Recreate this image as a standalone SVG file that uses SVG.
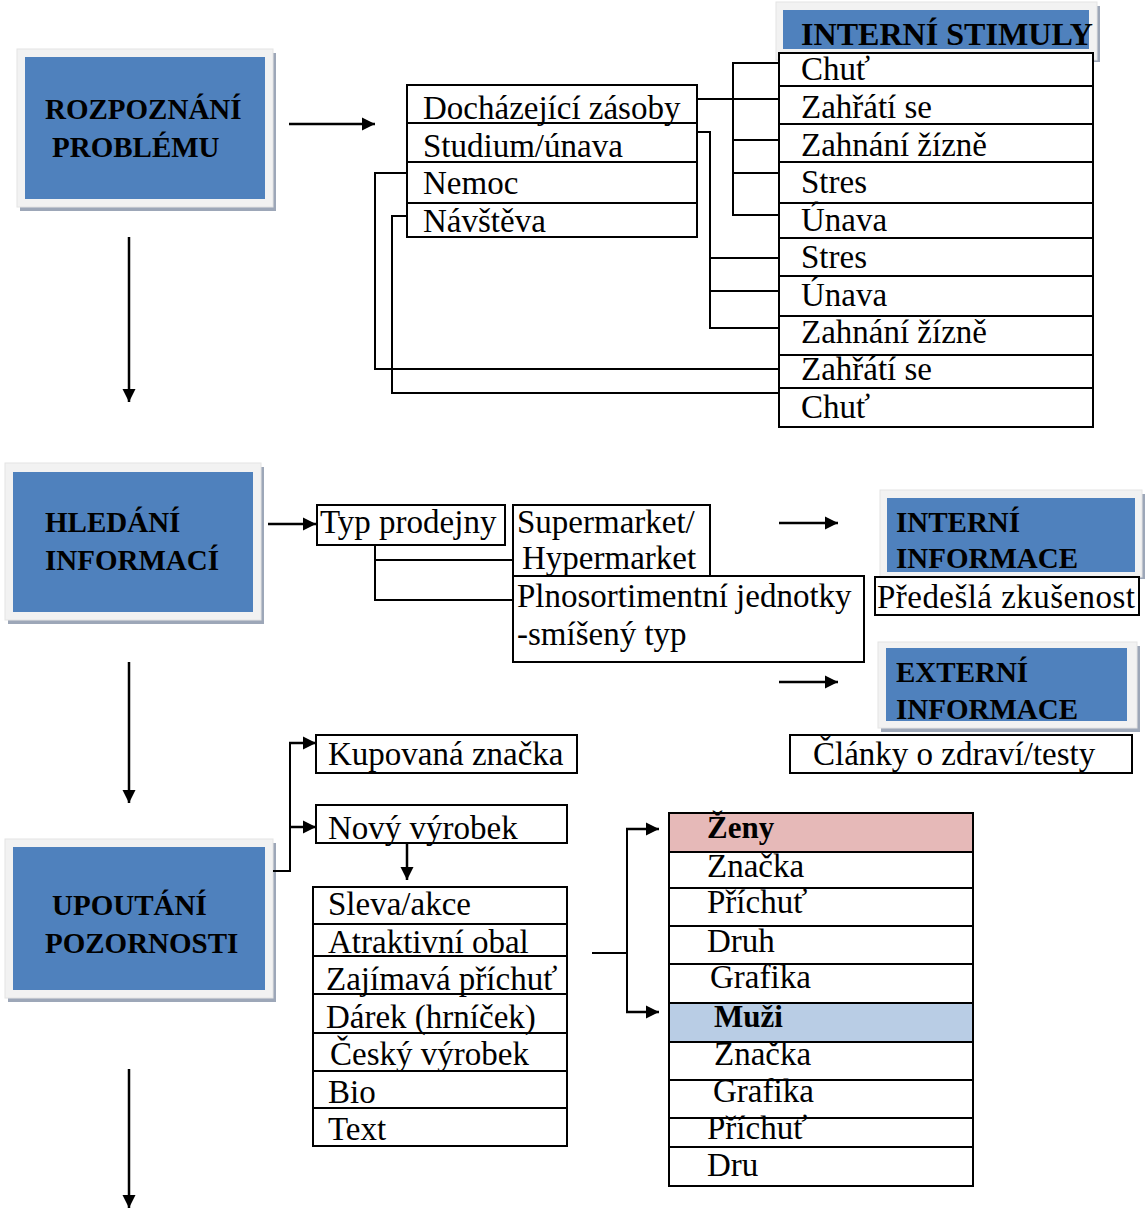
<svg xmlns="http://www.w3.org/2000/svg" width="1145" height="1209" viewBox="0 0 1145 1209">
  <defs>
    <marker id="arrow" markerUnits="userSpaceOnUse" markerWidth="14" markerHeight="14" refX="13" refY="7" orient="auto">
      <path d="M0,0.5 L13,7 L0,13.5 z" fill="#000"/>
    </marker>
  </defs>
  <style>
    .t { font-family: "Liberation Serif", "Times New Roman", serif; font-size: 33px; fill: #000; }
    .h { font-family: "Liberation Serif", "Times New Roman", serif; font-size: 29px; font-weight: bold; fill: #000; }
    .hb { font-family: "Liberation Serif", "Times New Roman", serif; font-size: 31px; font-weight: bold; fill: #000; }
    .box { fill: #fff; stroke: #000; stroke-width: 2; }
    .outline { fill: none; stroke: #000; stroke-width: 2; }
    .ln { fill: none; stroke: #000; stroke-width: 2; }
    .arr { fill: none; stroke: #000; stroke-width: 2.5; marker-end: url(#arrow); }
    .frame { fill: #F2F2F2; stroke: #E4E4E4; stroke-width: 1; }
    .shadow { fill: #9DA7B8; }
    .blue { fill: #4F81BD; }
  </style>

  <rect width="1145" height="1209" fill="#fff"/>

  <!-- stage 1 -->
  <g id="rozpoznani">
    <rect class="shadow" x="20" y="53" width="256" height="158"/>
    <rect class="frame" x="17" y="49" width="256" height="158"/>
    <rect class="blue" x="25" y="57" width="240" height="142"/>
    <text class="h" x="45" y="119">ROZPOZNÁNÍ</text>
    <text class="h" x="52" y="157">PROBLÉMU</text>
  </g>

  <!-- stage 2 -->
  <g id="hledani">
    <rect class="shadow" x="8" y="467" width="256" height="157"/>
    <rect class="frame" x="5" y="463" width="256" height="157"/>
    <rect class="blue" x="13" y="472" width="240" height="140"/>
    <text class="h" x="45" y="532">HLEDÁNÍ</text>
    <text class="h" x="45" y="570">INFORMACÍ</text>
  </g>

  <!-- stage 3 -->
  <g id="upoutani">
    <rect class="shadow" x="8" y="843" width="268" height="159"/>
    <rect class="frame" x="5" y="839" width="268" height="159"/>
    <rect class="blue" x="13" y="847" width="252" height="143"/>
    <text class="h" x="52" y="915">UPOUTÁNÍ</text>
    <text class="h" x="45" y="953">POZORNOSTI</text>
  </g>

  <!-- internal stimuli header -->
  <g id="interni-stimuly">
    <rect class="shadow" x="779" y="6" width="321" height="56"/>
    <rect class="frame" x="776" y="2" width="321" height="58"/>
    <rect class="blue" x="783" y="10" width="306" height="39"/>
    <text class="hb" x="801" y="45" textLength="292" lengthAdjust="spacingAndGlyphs">INTERNÍ STIMULY</text>
  </g>

  <!-- causes -->
  <g id="priciny">
    <rect class="box" x="407" y="85" width="290" height="152"/>
    <path class="ln" d="M407,123 H697 M407,162 H697 M407,203 H697"/>
    <text class="t" x="423" y="119">Docházející zásoby</text>
    <text class="t" x="423" y="157">Studium/únava</text>
    <text class="t" x="423" y="194">Nemoc</text>
    <text class="t" x="423" y="232">Návštěva</text>
  </g>

  <!-- stimuli list -->
  <g id="stimuly">
    <rect class="box" x="779" y="53" width="314" height="374"/>
    <path class="ln" d="M779,86 H1093 M779,124 H1093 M779,162 H1093 M779,203 H1093 M779,238 H1093 M779,276 H1093 M779,316 H1093 M779,355 H1093 M779,388 H1093"/>
    <text class="t" x="801" y="80">Chuť</text>
    <text class="t" x="801" y="118">Zahřátí se</text>
    <text class="t" x="801" y="156">Zahnání žízně</text>
    <text class="t" x="801" y="193">Stres</text>
    <text class="t" x="801" y="231">Únava</text>
    <text class="t" x="801" y="268">Stres</text>
    <text class="t" x="801" y="306">Únava</text>
    <text class="t" x="801" y="343">Zahnání žízně</text>
    <text class="t" x="801" y="380">Zahřátí se</text>
    <text class="t" x="801" y="418">Chuť</text>
  </g>

  <!-- store type -->
  <g id="typ-prodejny">
    <rect class="box" x="317" y="505" width="188" height="40"/>
    <text class="t" x="320" y="533">Typ prodejny</text>
  </g>
  <g id="supermarket">
    <rect class="box" x="513" y="505" width="197" height="71"/>
    <text class="t" x="517" y="533">Supermarket/</text>
    <text class="t" x="522" y="569">Hypermarket</text>
  </g>
  <g id="plnosortimentni">
    <rect class="box" x="513" y="576" width="351" height="86"/>
    <text class="t" x="517" y="607">Plnosortimentní jednotky</text>
    <text class="t" x="517" y="645">-smíšený typ</text>
  </g>

  <!-- information sources -->
  <g id="interni-informace">
    <rect class="shadow" x="883" y="494" width="262" height="85"/>
    <rect class="frame" x="880" y="490" width="262" height="87"/>
    <rect class="blue" x="887" y="498" width="248" height="74"/>
    <text class="h" x="896" y="532">INTERNÍ</text>
    <text class="h" x="896" y="568">INFORMACE</text>
  </g>
  <g id="predesla-zkusenost">
    <rect class="box" x="875" y="577" width="264" height="38"/>
    <text class="t" x="877" y="608" textLength="258">Předešlá zkušenost</text>
  </g>
  <g id="externi-informace">
    <rect class="shadow" x="881" y="646" width="259" height="86"/>
    <rect class="frame" x="878" y="642" width="259" height="86"/>
    <rect class="blue" x="886" y="648" width="241" height="73"/>
    <text class="h" x="896" y="682">EXTERNÍ</text>
    <text class="h" x="896" y="719">INFORMACE</text>
  </g>
  <g id="clanky">
    <rect class="box" x="790" y="735" width="342" height="38"/>
    <text class="t" x="813" y="765">Články o zdraví/testy</text>
  </g>

  <!-- attention -->
  <g id="kupovana-znacka">
    <rect class="box" x="316" y="735" width="261" height="38"/>
    <text class="t" x="328" y="765">Kupovaná značka</text>
  </g>
  <g id="novy-vyrobek">
    <rect class="box" x="316" y="805" width="251" height="38"/>
    <text class="t" x="328" y="839">Nový výrobek</text>
  </g>
  <g id="faktory">
    <rect class="box" x="313" y="887" width="254" height="259"/>
    <path class="ln" d="M313,924 H567 M313,956 H567 M313,994 H567 M313,1033 H567 M313,1071 H567 M313,1108 H567"/>
    <text class="t" x="328" y="915">Sleva/akce</text>
    <text class="t" x="328" y="953">Atraktivní obal</text>
    <text class="t" x="326" y="990">Zajímavá příchuť</text>
    <text class="t" x="326" y="1028">Dárek (hrníček)</text>
    <text class="t" x="330" y="1065">Český výrobek</text>
    <text class="t" x="328" y="1103">Bio</text>
    <text class="t" x="328" y="1140">Text</text>
  </g>
  <g id="pohlavi">
    <rect x="669" y="813" width="304" height="373" fill="#fff"/>
    <rect x="669" y="813" width="304" height="39" fill="#E6B9B8"/>
    <rect x="669" y="1003" width="304" height="39" fill="#B9CDE5"/>
    <rect class="outline" x="669" y="813" width="304" height="373"/>
    <path class="ln" d="M669,852 H973 M669,888 H973 M669,926 H973 M669,964 H973 M669,1003 H973 M669,1042 H973 M669,1080 H973 M669,1118 H973 M669,1147 H973"/>
    <text class="hb" x="707" y="838">Ženy</text>
    <text class="t" x="707" y="877">Značka</text>
    <text class="t" x="707" y="913">Příchuť</text>
    <text class="t" x="707" y="952">Druh</text>
    <text class="t" x="710" y="988">Grafika</text>
    <text class="hb" x="714" y="1027">Muži</text>
    <text class="t" x="714" y="1065">Značka</text>
    <text class="t" x="713" y="1102">Grafika</text>
    <text class="t" x="707" y="1139">Příchuť</text>
    <text class="t" x="707" y="1176">Dru</text>
  </g>

  <!-- connectors -->
  <g id="connectors">
    <!-- stage flow -->
    <line class="arr" x1="129" y1="237" x2="129" y2="402"/>
    <line class="arr" x1="129" y1="662" x2="129" y2="803"/>
    <line class="arr" x1="129" y1="1069" x2="129" y2="1208"/>
    <line class="arr" x1="289" y1="124" x2="375" y2="124"/>
    <line class="arr" x1="268" y1="524" x2="316" y2="524"/>

    <!-- causes to stimuli -->
    <path class="ln" d="M697,99 H779 M779,63 H733 V215 H779 M733,140 H779 M733,173 H779"/>
    <path class="ln" d="M697,132 H710 V328 H779 M710,258 H779 M710,291 H779"/>
    <path class="ln" d="M407,173 H375 V369 H779"/>
    <path class="ln" d="M407,216 H392 V393 H779"/>

    <!-- store type split -->
    <path class="ln" d="M375,545 V600 H513 M375,560 H513"/>

    <!-- information arrows -->
    <line class="arr" x1="779" y1="523" x2="838" y2="523"/>
    <line class="arr" x1="779" y1="682" x2="838" y2="682"/>

    <!-- attention branches -->
    <path class="ln" d="M273,871 H290 V743"/>
    <line class="arr" x1="289" y1="743" x2="316" y2="743"/>
    <line class="arr" x1="290" y1="827" x2="316" y2="827"/>
    <line class="arr" x1="407" y1="843" x2="407" y2="880"/>

    <!-- gender split -->
    <path class="ln" d="M592,953 H627 M627,829 V1012"/>
    <line class="arr" x1="626" y1="829" x2="659" y2="829"/>
    <line class="arr" x1="626" y1="1012" x2="659" y2="1012"/>
  </g>
</svg>
